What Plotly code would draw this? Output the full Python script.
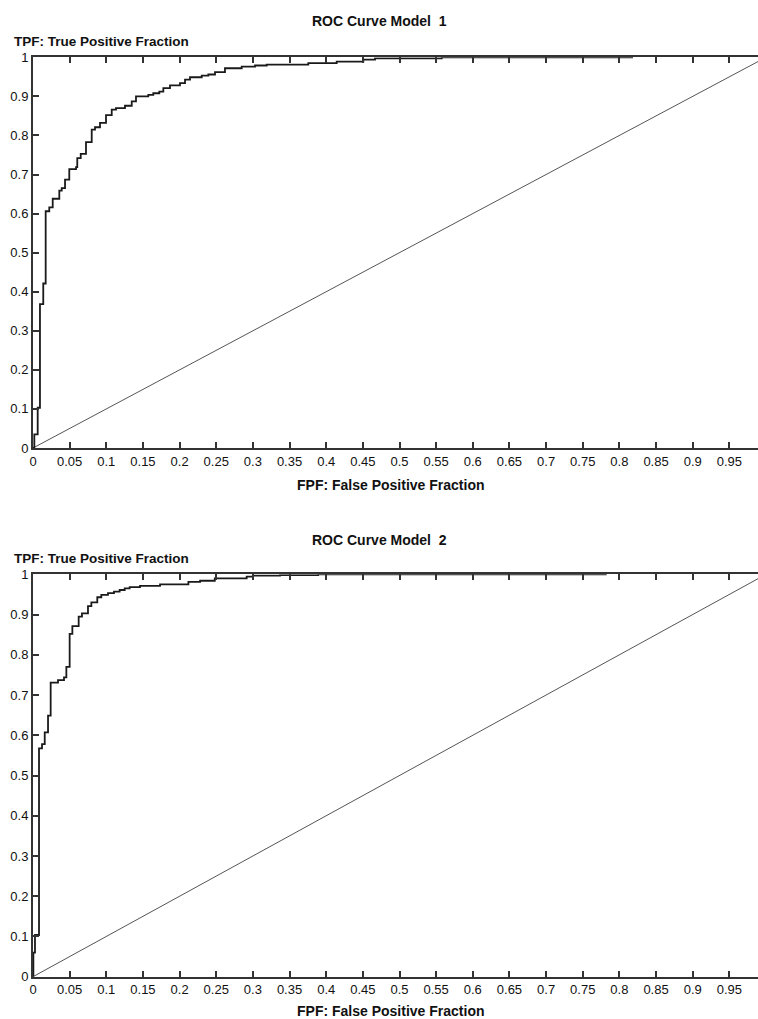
import plotly.graph_objects as go

# ---- data ----
fpr_model1 = [0, 0.0018, 0.0064, 0.0095, 0.014, 0.0173, 0.0222, 0.0269, 0.0359, 0.0392, 0.0437,
              0.0495, 0.0587, 0.0604, 0.0651, 0.0723, 0.0801, 0.0846, 0.0914, 0.0996, 0.1074,
              0.1132, 0.1255, 0.1347, 0.1405, 0.1573, 0.1641, 0.1723, 0.1778, 0.1869, 0.2005,
              0.2074, 0.2142, 0.2302, 0.2392, 0.2483, 0.2619, 0.2847, 0.3029, 0.3188, 0.3756,
              0.4143, 0.4506, 0.4666, 0.5576, 0.8186]
tpr_model1 = [0, 0.035, 0.103, 0.368, 0.421, 0.606, 0.616, 0.638, 0.659, 0.665, 0.687,
              0.714, 0.719, 0.742, 0.753, 0.783, 0.815, 0.821, 0.832, 0.852, 0.866,
              0.870, 0.876, 0.887, 0.900, 0.904, 0.908, 0.912, 0.921, 0.928, 0.934,
              0.943, 0.949, 0.953, 0.956, 0.962, 0.972, 0.976, 0.979, 0.981, 0.985,
              0.989, 0.994, 0.997, 1.0, 1.0]

fpr_model2 = [0, 0.0005, 0.0027, 0.0082, 0.0123, 0.016, 0.0205, 0.0241, 0.0341, 0.0423, 0.0455,
              0.05, 0.0537, 0.0623, 0.0668, 0.075, 0.0796, 0.0877, 0.0932, 0.1023, 0.1105,
              0.1182, 0.1251, 0.1319, 0.146, 0.1733, 0.212, 0.228, 0.248, 0.2915, 0.30,
              0.337, 0.389, 0.7826]
tpr_model2 = [0, 0.06, 0.1036, 0.5676, 0.578, 0.607, 0.649, 0.731, 0.737, 0.744, 0.770,
              0.852, 0.871, 0.895, 0.903, 0.921, 0.930, 0.943, 0.949, 0.953, 0.957,
              0.961, 0.965, 0.968, 0.971, 0.975, 0.981, 0.984, 0.990, 0.994, 0.9965,
              0.998, 1.0, 1.0]

diag_x = [0, 1]
diag_y = [0, 1]

x_tickvals = [0, 0.05, 0.1, 0.15, 0.2, 0.25, 0.3, 0.35, 0.4, 0.45, 0.5, 0.55, 0.6, 0.65,
              0.7, 0.75, 0.8, 0.85, 0.9, 0.95]
x_ticktext = ["0", "0.05", "0.1", "0.15", "0.2", "0.25", "0.3", "0.35", "0.4", "0.45", "0.5",
              "0.55", "0.6", "0.65", "0.7", "0.75", "0.8", "0.85", "0.9", "0.95"]
y_tickvals = [0, 0.1, 0.2, 0.3, 0.4, 0.5, 0.6, 0.7, 0.8, 0.9, 1]
y_ticktext = ["0", "0.1", "0.2", "0.3", "0.4", "0.5", "0.6", "0.7", "0.8", "0.9", "1"]

titles = ["ROC Curve Model\u00a0 1", "ROC Curve Model\u00a0 2"]
y_title = "TPF: True Positive Fraction"
x_title = "FPF: False Positive Fraction"

# ---- figure ----
W, H = 758, 1019
fig = go.Figure()

curve_color = "#1a1a1a"
axis_color = "#333333"
font_family = "Liberation Sans, Arial, sans-serif"

for i, (fx, ty) in enumerate([(fpr_model1, tpr_model1), (fpr_model2, tpr_model2)]):
    xa = "x" if i == 0 else "x2"
    ya = "y" if i == 0 else "y2"
    fig.add_trace(go.Scatter(x=diag_x, y=diag_y, mode="lines", xaxis=xa, yaxis=ya,
                             line=dict(color="#555555", width=1), hoverinfo="skip",
                             showlegend=False))
    fig.add_trace(go.Scatter(x=fx, y=ty, mode="lines", xaxis=xa, yaxis=ya,
                             line=dict(color=curve_color, width=1.8, shape="hv"),
                             showlegend=False))

def py(p):
    return 1 - p / H

x_dom = [33 / W, 1.0]
x_range = [0, (W - 33) / 733]
domains = [[py(448), py(57.3)], [py(976.7), py(574.3)]]

axis_common = dict(showgrid=False, zeroline=False, showline=True, linecolor=axis_color,
                   linewidth=2, ticks="inside", ticklen=6, tickwidth=1.5,
                   tickcolor=axis_color, automargin=False,
                   tickfont=dict(family=font_family, size=13, color="#111111"))

fig.update_layout(
    width=W, height=H,
    margin=dict(l=0, r=0, t=0, b=0),
    paper_bgcolor="white", plot_bgcolor="white",
    template="none",
    showlegend=False,
    xaxis=dict(domain=x_dom, range=x_range, anchor="y", tickvals=x_tickvals,
               ticktext=x_ticktext, mirror="ticks", **axis_common),
    yaxis=dict(domain=domains[0], range=[0, 1], anchor="x", tickvals=y_tickvals,
               ticktext=y_ticktext, mirror=False, **axis_common),
    xaxis2=dict(domain=x_dom, range=x_range, anchor="y2", tickvals=x_tickvals,
                ticktext=x_ticktext, mirror="ticks", **axis_common),
    yaxis2=dict(domain=domains[1], range=[0, 1], anchor="x2", tickvals=y_tickvals,
                ticktext=y_ticktext, mirror=False, **axis_common),
)

label_font = dict(family=font_family, size=14, color="#111111")
tpf_font = dict(family=font_family, size=13.5, color="#111111")
ann = []
for i, (t_y, tpf_y, fpf_y) in enumerate([(21, 41.5, 485), (540, 558.5, 1011)]):
    ann.append(dict(text="<b>" + titles[i] + "</b>", x=379.5 / W, y=py(t_y), xref="paper",
                    yref="paper", xanchor="center", yanchor="middle", showarrow=False,
                    font=label_font))
    ann.append(dict(text="<b>" + y_title + "</b>", x=12 / W, y=py(tpf_y), xref="paper",
                    yref="paper", xanchor="left", yanchor="middle", showarrow=False,
                    font=tpf_font))
    ann.append(dict(text="<b>" + x_title + "</b>", x=391 / W, y=py(fpf_y), xref="paper",
                    yref="paper", xanchor="center", yanchor="middle", showarrow=False,
                    font=label_font))
fig.update_layout(annotations=ann)

fig.write_html("out.html")
